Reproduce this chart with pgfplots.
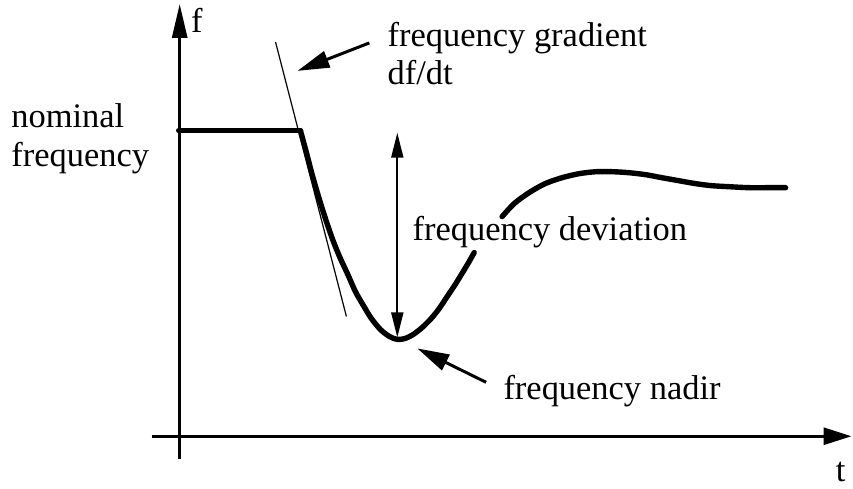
\documentclass[border=0pt]{standalone}
\usepackage{pgfplots}
\pgfplotsset{compat=1.18}
\usepackage{fontspec}
\setmainfont{Liberation Serif}
\usetikzlibrary{arrows.meta}
\begin{document}
\begin{tikzpicture}
\begin{axis}[x=0.5pt,y=0.5pt,xmin=0,xmax=853,ymin=0,ymax=489,y dir=reverse,
  hide axis,clip=false,scale only axis]
\path (axis cs:0,0) rectangle (axis cs:853,489);
% axes
\draw[line width=1.5pt,-{Triangle[length=17pt,width=7.5pt]}] (axis cs:180,460) -- (axis cs:180,4);
\draw[line width=1.5pt,-{Triangle[length=14pt,width=8.5pt]}] (axis cs:152,437) -- (axis cs:853,437);
% tangent line
\addplot[black,line width=0.6pt] coordinates {(276,42) (347,317)};
% curve
\addplot[black,line width=2.7pt,line cap=round] coordinates {(179,131) (301,131)};
\addplot[black,line width=2.7pt,line cap=round,smooth] coordinates {
(301,131) (307,153) (313,176) (320,200) (327,222) (334,242) (341,259) (348,274)
(356,292) (364,306) (372,319) (381,330) (390,337) (398,340) (406,339) (414,335)
(423,328) (432,319) (440,309) (448,297) (456,285) (464,272) (470,262) (475,253)};
\addplot[black,line width=2.7pt,line cap=round,smooth] coordinates {
(503,217) (515,204) (530,193) (546,184) (563,178) (580,174) (597,172) (614,172)
(630,173) (647,175) (663,178) (680,181) (697,184) (713,186) (730,187) (750,188)
(770,188) (787,188)};
% deviation double arrow
\draw[line width=1pt,{Triangle[length=12.5pt,width=6pt]}-{Triangle[length=12.5pt,width=6pt]}] (axis cs:398,133) -- (axis cs:398,338);
% pointer arrows
\draw[line width=1.5pt,-{Triangle[length=16pt,width=8.5pt]}] (axis cs:370,43) -- (axis cs:298,71);
\draw[line width=1.5pt,-{Triangle[length=16pt,width=8.5pt]}] (axis cs:487,383) -- (axis cs:418,349);
% labels
\begin{scope}[every node/.style={inner sep=0pt,font=\fontsize{17.25}{20}\selectfont}]
\node[anchor=base west] at (axis cs:191,33) {f};
\node[anchor=base west] at (axis cs:388,47) {frequency gradient};
\node[anchor=base west] at (axis cs:388,85) {df/dt};
\node[anchor=base west] at (axis cs:11,128) {nominal};
\node[anchor=base west] at (axis cs:11,167) {frequency};
\node[anchor=base west] at (axis cs:413,241) {frequency deviation};
\node[anchor=base west] at (axis cs:504,400) {frequency nadir};
\node[anchor=base west] at (axis cs:837,482) {t};
\end{scope}
\end{axis}
\end{tikzpicture}
\end{document}
